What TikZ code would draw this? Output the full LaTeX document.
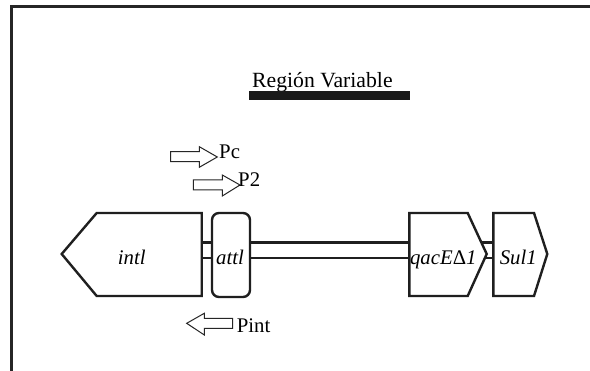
\documentclass[tikz,border=0pt]{standalone}
\usepackage{fontspec}
\setmainfont{Liberation Serif}
\tikzset{
  gene/.style={draw=black!88,line width=2.4pt,line join=miter,fill=white},
  wire/.style={draw=black!88,line width=2.4pt},
  site/.style={gene,rounded corners=7pt},
  promoter/.style={draw=black!85,line width=1pt,fill=white},
  lab/.style={font=\fontsize{20.8}{20.8}\selectfont,inner sep=0pt,anchor=base west},
  genelab/.style={font=\fontsize{20.8}{20.8}\selectfont\itshape,inner sep=0pt,anchor=base}
}
\begin{document}
\begin{tikzpicture}[x=1pt,y=-1pt]
\useasboundingbox (0,0) rectangle (590,371);
\fill[white] (0,0) rectangle (590,371);
% frame
\draw[black!85,line width=2.4pt] (11.5,371) -- (11.5,6.5) -- (590,6.5);
% title
\node[lab,font=\fontsize{21.7}{21.7}\selectfont] (title) at (252,87.5) {Región Variable};
\fill[black!90] (249,91) rectangle (410,100);
% named connection points
\coordinate (intlA) at (201.7,242.7); \coordinate (intlB) at (201.7,258.3);
\coordinate (attlAw) at (212,242.7); \coordinate (attlBw) at (212,258.3);
\coordinate (attlAe) at (250,242.7); \coordinate (attlBe) at (250,258.3);
\coordinate (qacAw) at (409.3,242.7); \coordinate (qacBw) at (409.3,258.3);
\coordinate (qacAe) at (481,242.7); \coordinate (qacBe) at (484,258.3);
\coordinate (sulAw) at (493.3,242.7); \coordinate (sulBw) at (493.3,258.3);
% connectors
\draw[wire] (intlA) -- (attlAw);
\draw[wire] (intlB) -- (attlBw);
\draw[wire] (attlAe) -- (qacAw);
\draw[wire] (attlBe) -- (qacBw);
\draw[wire] (qacAe) -- (sulAw);
\draw[wire] (qacBe) -- (sulBw);
% genes
\draw[gene] (61.7,254) -- (96.7,213) -- (201.7,213) -- (201.7,296) -- (96.7,296) -- cycle;
\draw[site] (212,213) rectangle (250,297);
\draw[gene] (409.3,213) -- (467.7,213) -- (486.7,254) -- (467.7,296) -- (409.3,296) -- cycle;
\draw[gene] (493.3,213) -- (534,213) -- (547.3,254) -- (534,296) -- (493.3,296) -- cycle;
\node[genelab] (intl) at (131.7,264.5) {intl};
\node[genelab] (attl) at (230,264.5) {attl};
\node[genelab] (qac) at (443.3,264.5) {qacE{\upshape Δ}1};
\node[genelab] (sul) at (518.3,264.5) {Sul1};
% promoters
\draw[promoter] (170.7,151.7) -- (199.3,151.7) -- (199.3,146.7) -- (217.3,157) -- (199.3,167.3) -- (199.3,161.7) -- (170.7,161.7) -- cycle;
\draw[promoter] (193.3,180) -- (222.3,180) -- (222.3,175) -- (240,185) -- (222.3,196) -- (222.3,190) -- (193.3,190) -- cycle;
\draw[promoter] (232.7,318.3) -- (204.3,318.3) -- (204.3,313.3) -- (186.7,323.3) -- (204.3,335) -- (204.3,328.3) -- (232.7,328.3) -- cycle;
\node[lab] (pc) at (219,159) {Pc};
\node[lab] (p2) at (238,187) {P2};
\node[lab] (pint) at (236.7,333) {Pint};
\end{tikzpicture}
\end{document}
